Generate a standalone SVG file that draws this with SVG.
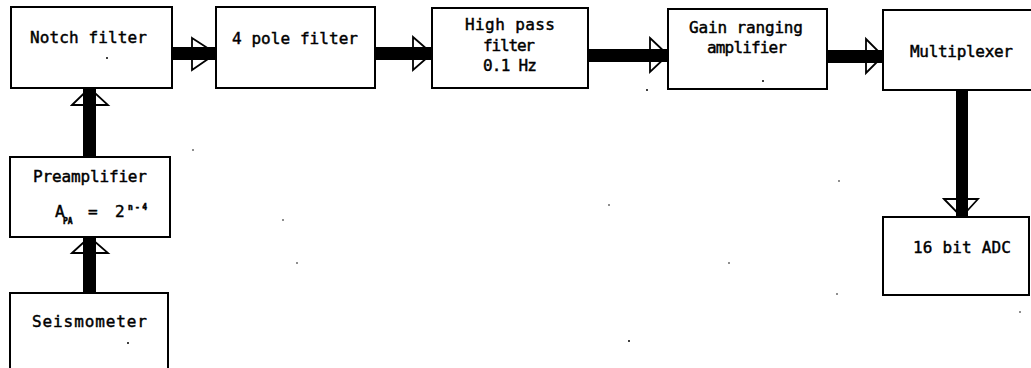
<svg xmlns="http://www.w3.org/2000/svg" width="1031" height="368" viewBox="0 0 1031 368">
<style>
.box{fill:#fff;stroke:#000;stroke-width:2}
.bar{fill:#000}
.tri{fill:#fff;stroke:#000;stroke-width:1.8;stroke-linejoin:miter}
.t{font-family:"DejaVu Sans Mono","Liberation Mono",monospace;font-size:16px;fill:#000;stroke:#000;stroke-width:0.45}
.s{font-family:"DejaVu Sans Mono","Liberation Mono",monospace;font-size:8px;fill:#000;stroke:#000;stroke-width:0.5;font-weight:bold}
.dot{fill:#000}
</style>
<rect width="1031" height="368" fill="#fff"/>
<g id="connectors">
  <g id="c1"><polygon class="tri" points="192,38 216,53.5 192,70"/><rect class="bar" x="172" y="47" width="44" height="13"/></g>
  <g id="c2"><polygon class="tri" points="413,37 432,53.5 413,70"/><rect class="bar" x="375" y="47" width="57" height="13"/></g>
  <g id="c3"><polygon class="tri" points="650,38 668,55 650,72"/><rect class="bar" x="588" y="49" width="80" height="13"/></g>
  <g id="c4"><polygon class="tri" points="866,39 883,56 866,73"/><rect class="bar" x="827" y="50" width="56" height="13"/></g>
  <g id="c5"><polygon class="tri" points="944,199 961.5,217 978,199"/><rect class="bar" x="956" y="90" width="12" height="127"/></g>
  <g id="c6"><polygon class="tri" points="72,105 89.5,88 108,105"/><rect class="bar" x="83" y="88" width="13" height="69"/></g>
  <g id="c7"><polygon class="tri" points="72,253 89.5,237 108,253"/><rect class="bar" x="83" y="237" width="13" height="56"/></g>
</g>
<g id="notch"><rect class="box" x="11" y="7" width="161" height="81"/><text class="t" x="30" y="43" textLength="117">Notch filter</text></g>
<g id="pole4"><rect class="box" x="216" y="7" width="159" height="81"/><text class="t" x="232" y="44" textLength="126">4 pole filter</text></g>
<g id="highpass"><rect class="box" x="432" y="8" width="156" height="80"/>
  <text class="t" x="465" y="30" textLength="90">High pass</text>
  <text class="t" x="483" y="51" textLength="52">filter</text>
  <text class="t" x="483" y="71" textLength="54">0.1 Hz</text></g>
<g id="gain"><rect class="box" x="668" y="9" width="159" height="80"/>
  <text class="t" x="689" y="33" textLength="114">Gain ranging</text>
  <text class="t" x="707" y="53" textLength="80">amplifier</text></g>
<g id="mux"><rect class="box" x="883" y="10" width="160" height="80"/><text class="t" x="910" y="57" textLength="103">Multiplexer</text></g>
<g id="adc"><rect class="box" x="883" y="217" width="146" height="78"/><text class="t" x="913" y="253" textLength="98">16 bit ADC</text></g>
<g id="preamp"><rect class="box" x="10" y="157" width="160" height="80"/>
  <text class="t" x="33" y="182" textLength="114">Preamplifier</text>
  <text class="t" x="55" y="217">A</text>
  <text class="s" x="63" y="224">PA</text>
  <text class="t" x="88" y="217">=</text>
  <text class="t" x="115" y="217">2</text>
  <text class="s" x="128" y="210" textLength="19">n-4</text></g>
<g id="seis"><rect class="box" x="10" y="293" width="158" height="90"/><text class="t" x="32" y="327" textLength="115">Seismometer</text></g>
<g id="specks">
  <circle class="dot" cx="107" cy="58" r="1"/>
  <circle class="dot" cx="128" cy="343" r="1"/>
  <circle class="dot" cx="193" cy="150" r="0.8"/>
  <circle class="dot" cx="283" cy="220" r="0.8"/>
  <circle class="dot" cx="297" cy="263" r="0.8"/>
  <circle class="dot" cx="609" cy="205" r="0.8"/>
  <circle class="dot" cx="839" cy="181" r="0.8"/>
  <circle class="dot" cx="729" cy="263" r="0.8"/>
  <circle class="dot" cx="837" cy="294" r="0.8"/>
  <circle class="dot" cx="629" cy="341" r="1"/>
  <circle class="dot" cx="1020" cy="312" r="0.8"/>
  <circle class="dot" cx="647" cy="90" r="1"/>
  <circle class="dot" cx="763" cy="81" r="1"/>
</g>
</svg>
